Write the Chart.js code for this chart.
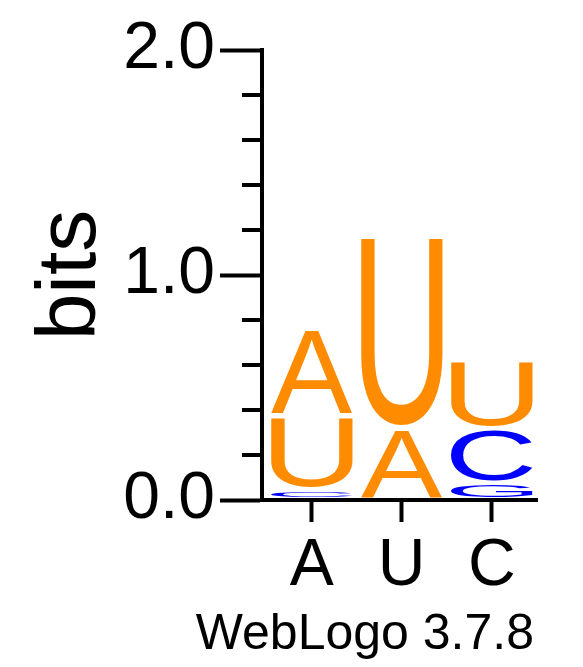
<!DOCTYPE html>
<html>
<head>
<meta charset="utf-8">
<script src="https://cdn.jsdelivr.net/npm/chart.js@4/dist/chart.umd.min.js"></script>
<style>
  html, body { margin: 0; padding: 0; background: #ffffff; }
  canvas { display: block; }
</style>
</head>
<body>
<canvas id="c" width="583" height="667"></canvas>
<script>
// Position labels (x axis)
const columns = ['A', 'U', 'C'];
// Stack levels, bottom to top: letter and information height (bits) per column
const level1Letters = ['C', 'A', 'G'];
const level1Bits    = [0.045, 0.322, 0.076];
const level2Letters = ['U', 'U', 'C'];
const level2Bits    = [0.326, 0.852, 0.243];
const level3Letters = ['A', '', 'U'];
const level3Bits    = [0.388, 0, 0.307];
// Y axis labelled ticks and minor ticks
const yMajorTicks = [0, 1, 2];
const yMinorTicks = [0.2, 0.4, 0.6, 0.8, 1.2, 1.4, 1.6, 1.8];
const footerText = 'WebLogo 3.7.8';

const letterColors = { A: '#FF8C00', U: '#FF8C00', T: '#FF8C00', C: '#0000FF', G: '#0000FF' };

const levels = [
  { letters: level1Letters, bits: level1Bits },
  { letters: level2Letters, bits: level2Bits },
  { letters: level3Letters, bits: level3Bits }
];

const datasets = levels.map((lv, k) => ({
  label: 'level ' + (k + 1),
  letters: lv.letters,
  data: lv.bits.map((b, i) => ({ x: i, y: b })),
  backgroundColor: 'rgba(0,0,0,0)',
  borderWidth: 0,
  barPercentage: 1,
  categoryPercentage: 1
}));

const glyphPlugin = {
  id: 'glyphs',
  afterDatasetsDraw(chart) {
    const ctx = chart.ctx;
    chart.data.datasets.forEach((ds, di) => {
      const meta = chart.getDatasetMeta(di);
      meta.data.forEach((el, i) => {
        const letter = ds.letters[i];
        const v = ds.data[i].y;
        if (!letter || !v) return;
        const p = el.getProps(['x', 'y', 'base', 'width'], true);
        const padX = 4.25, padY = 2.5;
        const left = p.x - p.width / 2 + padX;
        const right = p.x + p.width / 2 - padX;
        const top = Math.min(p.y, p.base) + padY;
        const bottom = Math.max(p.y, p.base) - padY;
        const w = right - left, h = bottom - top;
        if (w <= 0 || h <= 0) return;
        ctx.save();
        ctx.font = '200px "Liberation Sans", Arial, sans-serif';
        ctx.textAlign = 'left';
        ctx.textBaseline = 'alphabetic';
        const m = ctx.measureText(letter);
        const inkW = m.actualBoundingBoxLeft + m.actualBoundingBoxRight;
        const inkH = m.actualBoundingBoxAscent + m.actualBoundingBoxDescent;
        ctx.beginPath();
        ctx.rect(left - 1, top - 1, w + 2, h + 2);
        ctx.clip();
        ctx.translate(left, top);
        ctx.scale(w / inkW, h / inkH);
        ctx.fillStyle = letterColors[letter] || '#000';
        ctx.fillText(letter, m.actualBoundingBoxLeft, m.actualBoundingBoxAscent);
        ctx.restore();
      });
    });
  }
};

const minorTickPlugin = {
  id: 'minorTicks',
  afterDraw(chart) {
    const ctx = chart.ctx;
    const ys = chart.scales.y;
    const x0 = chart.chartArea.left;
    ctx.save();
    ctx.strokeStyle = '#000';
    ctx.lineWidth = 4;
    yMinorTicks.forEach(t => {
      const py = ys.getPixelForValue(t);
      ctx.beginPath();
      ctx.moveTo(x0 - 20, py);
      ctx.lineTo(x0, py);
      ctx.stroke();
    });
    // footer
    ctx.fillStyle = '#000';
    ctx.font = '50px "Liberation Sans", Arial, sans-serif';
    ctx.textAlign = 'right';
    ctx.textBaseline = 'alphabetic';
    ctx.fillText(footerText, 534, 649);
    ctx.restore();
  }
};

new Chart(document.getElementById('c'), {
  type: 'bar',
  data: { datasets },
  plugins: [glyphPlugin, minorTickPlugin],
  options: {
    responsive: false,
    devicePixelRatio: 1,
    animation: false,
    layout: { padding: { top: 50, right: 46, bottom: 0, left: 0 } },
    plugins: { legend: { display: false }, tooltip: { enabled: false }, title: { display: false } },
    scales: {
      x: {
        type: 'linear',
        stacked: true,
        offset: false,
        min: -0.552,
        max: 2.503,
        afterFit: s => { s.height = 167; },
        afterBuildTicks: s => { s.ticks = columns.map((_, i) => ({ value: i })); },
        grid: { display: true, offset: false, drawOnChartArea: false, drawTicks: true, tickLength: 22, tickWidth: 4, tickColor: '#000' },
        border: { display: true, width: 4, color: '#000' },
        ticks: {
          color: '#000',
          padding: 5,
          maxRotation: 0,
          autoSkip: false,
          font: { family: '"Liberation Sans", Arial, sans-serif', size: 66 },
          callback: v => columns[v]
        }
      },
      y: {
        stacked: true,
        min: 0,
        max: 2,
        afterFit: s => { s.width = 262; },
        afterBuildTicks: s => { s.ticks = yMajorTicks.map(v => ({ value: v })); },
        grid: { display: true, drawOnChartArea: false, drawTicks: true, tickLength: 42, tickWidth: 4, tickColor: '#000' },
        border: { display: true, width: 4, color: '#000' },
        ticks: {
          color: '#000',
          padding: 5,
          font: { family: '"Liberation Sans", Arial, sans-serif', size: 66 },
          callback: v => Number(v).toFixed(1)
        },
        title: {
          display: true,
          text: 'bits',
          color: '#000',
          padding: { top: 21, bottom: 0 },
          font: { family: '"Liberation Sans", Arial, sans-serif', size: 84 }
        }
      }
    }
  }
});
</script>
</body>
</html>
